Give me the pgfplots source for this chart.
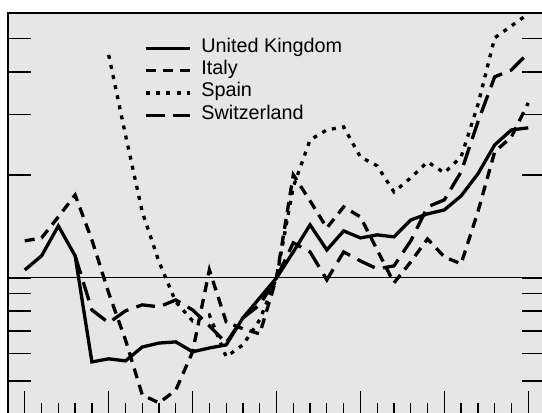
\documentclass[border=0pt]{standalone}
\usepackage{pgfplots}
\pgfplotsset{compat=1.18}
\usepackage{fontspec}
\setmainfont{Liberation Sans}
\definecolor{panel}{RGB}{230,230,230}

\begin{document}
\begin{tikzpicture}
\begin{axis}[
  scale only axis, width=537pt, height=401pt,
  xmin=-1, xmax=31,
  ymode=log, ymin=0.4, ymax=5.95,
  axis background/.style={fill=panel},
  axis line style={line width=1.3pt},
  xtick={0,5,...,30}, minor xtick={0,...,30}, xticklabels={},
  ytick={0.5,0.6,0.7,0.8,0.9,2,3,4,5}, minor y tick num=0, yticklabels={},
  xtick pos=bottom, ytick pos=both,
  tick align=inside,
  major tick length=23pt, minor tick length=11pt,
  every tick/.style={black, line width=1.3pt},
  extra y ticks={1}, extra y tick labels={},
  extra y tick style={grid=major, major grid style={black, line width=0.9pt}},
  legend style={draw=none, fill=none, at={(rel axis cs:0.253,0.94)}, anchor=north west,
    inner sep=0pt, row sep=0pt, font=\fontsize{19.8}{22}\selectfont,
    nodes={inner sep=0pt, text height=15pt, text depth=7.3pt, anchor=west}},
  legend cell align=left,
  legend image code/.code={\draw (0pt,0pt) -- (44pt,0pt); \path (54pt,0pt);},
]
\coordinate (bl) at (rel axis cs:0,0);
\coordinate (tr) at (rel axis cs:1,1);

% United Kingdom
\addplot[line width=3.3pt] coordinates {
(0,1.055) (1,1.160) (2,1.419) (3,1.160) (4,0.568) (5,0.580) (6,0.572) (7,0.628)
(8,0.645) (9,0.650) (10,0.608) (11,0.624) (12,0.637) (13,0.764) (14,0.874) (15,1.000)
(16,1.191) (17,1.429) (18,1.207) (19,1.372) (20,1.309) (21,1.336) (22,1.318) (23,1.477)
(24,1.539) (25,1.580) (26,1.737) (27,2.014) (28,2.448) (29,2.708) (30,2.746)
};
% Italy
\addplot[line width=3.3pt, dash pattern=on 10pt off 7pt] coordinates {
(0,1.283) (1,1.309) (2,1.508) (3,1.748) (4,1.291) (5,0.904) (6,0.659) (7,0.455)
(8,0.431) (9,0.470) (10,0.608) (11,1.055) (12,0.744) (13,0.710) (14,0.686) (15,1.000)
(16,2.001) (17,1.680) (18,1.400) (19,1.613) (20,1.508) (21,1.207) (22,0.967) (23,1.114)
(24,1.300) (25,1.152) (26,1.099) (27,1.560) (28,2.336) (29,2.584) (30,3.249)
};
% Spain
\addplot[line width=3.3pt, dash pattern=on 4pt off 6.3pt] coordinates {
(5,4.487) (6,2.619) (7,1.560) (8,1.114) (9,0.851) (10,0.749) (11,0.779) (12,0.588)
(13,0.637) (14,0.754) (15,1.000) (16,1.845) (17,2.532) (18,2.708) (19,2.764) (20,2.258)
(21,2.126) (22,1.784) (23,1.961) (24,2.184) (25,2.028) (26,2.258) (27,3.205) (28,5.031)
(29,5.456) (30,5.914)
};
% Switzerland
\addplot[line width=3.3pt, dash pattern=on 19pt off 8.5pt] coordinates {
(3,1.160) (4,0.806) (5,0.739) (6,0.801) (7,0.834) (8,0.823) (9,0.862) (10,0.806)
(11,0.724) (12,0.645) (13,0.764) (14,0.834) (15,1.000) (16,1.266) (17,1.191) (18,0.987)
(19,1.191) (20,1.121) (21,1.063) (22,1.084) (23,1.283) (24,1.613) (25,1.691) (26,2.041)
(27,2.858) (28,3.870) (29,4.056) (30,4.549)
};
\legend{United Kingdom, Italy, Spain, Switzerland}
\end{axis}
\pgfresetboundingbox
\useasboundingbox ([xshift=-8pt,yshift=2pt]bl) rectangle ([xshift=-3pt,yshift=13pt]tr);
\end{tikzpicture}
\end{document}
